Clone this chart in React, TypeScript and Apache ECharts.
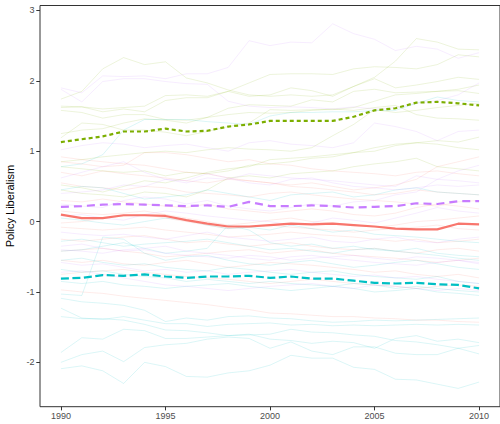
import React, { useEffect, useRef } from "react";
import * as echarts from "echarts";

const years = [1990,1991,1992,1993,1994,1995,1996,1997,1998,1999,2000,2001,2002,2003,2004,2005,2006,2007,2008,2009,2010];
const xTicks = [1990, 1995, 2000, 2005, 2010];
const yTicks = [-2, -1, 0, 1, 2, 3];
const yTitle = "Policy Liberalism";

// group means (bold lines)
const meanRed = [0.10,0.05,0.05,0.09,0.09,0.08,0.02,-0.03,-0.07,-0.07,-0.05,-0.03,-0.04,-0.03,-0.05,-0.07,-0.10,-0.11,-0.11,-0.03,-0.04];
const meanGreen = [1.13,1.17,1.21,1.28,1.28,1.32,1.28,1.29,1.35,1.38,1.43,1.43,1.43,1.43,1.49,1.58,1.61,1.69,1.70,1.68,1.65];
const meanCyan = [-0.81,-0.80,-0.76,-0.77,-0.75,-0.78,-0.80,-0.78,-0.78,-0.77,-0.80,-0.78,-0.81,-0.81,-0.84,-0.87,-0.88,-0.87,-0.89,-0.90,-0.95];
const meanPurple = [0.21,0.22,0.24,0.25,0.24,0.23,0.22,0.23,0.21,0.28,0.22,0.22,0.23,0.22,0.20,0.21,0.22,0.26,0.25,0.29,0.29];

// individual state lines, green group
const greenStates = [
  [1.74,1.85,2.17,2.33,2.23,2.27,2.04,1.97,1.87,1.80,1.78,1.80,1.78,1.80,1.92,2.05,2.28,2.60,2.55,2.45,2.44],
  [1.62,1.63,1.60,1.62,1.64,1.79,1.80,1.78,1.85,1.97,2.09,2.10,2.10,2.09,2.17,2.20,2.19,2.17,2.23,2.37,2.34],
  [1.64,1.63,1.56,1.60,1.56,1.72,1.76,1.76,1.85,1.78,1.80,1.90,1.86,1.78,1.92,2.03,1.90,1.94,1.99,2.05,2.02],
  [1.58,1.55,1.47,1.52,1.52,1.45,1.44,1.48,1.61,1.66,1.65,1.64,1.73,1.70,1.85,1.88,1.83,1.84,1.85,1.86,1.82],
  [1.19,1.40,1.38,1.30,1.30,1.27,1.22,1.28,1.35,1.40,1.59,1.58,1.59,1.59,1.62,1.71,1.80,1.82,1.85,1.88,1.94],
  [1.25,1.30,1.32,1.40,1.46,1.44,1.40,1.48,1.52,1.55,1.54,1.55,1.58,1.60,1.58,1.62,1.65,1.52,1.47,1.46,1.44],
  [0.85,0.88,0.92,0.95,0.98,1.00,0.98,1.02,1.05,1.03,1.02,1.00,1.05,1.22,1.38,1.59,1.55,1.58,1.62,1.65,1.68],
  [0.52,0.48,0.42,0.50,0.58,0.55,0.62,0.70,0.75,0.78,0.88,0.90,0.92,0.95,0.98,1.05,1.10,1.12,1.15,1.13,1.20],
  [0.78,0.75,0.72,0.70,0.72,0.65,0.70,0.68,0.72,0.80,0.82,0.85,0.90,0.92,0.98,1.00,1.08,1.12,1.10,1.05,1.02],
  [0.45,0.40,0.38,0.35,0.42,0.40,0.35,0.45,0.62,0.65,0.62,0.68,0.70,0.72,0.78,0.82,0.85,0.90,0.78,0.75,0.72],
];

// purple group
const purpleStates = [
  [1.90,1.83,2.07,2.06,2.07,2.03,2.10,2.10,2.19,2.57,2.50,2.55,2.54,2.81,2.67,2.59,2.43,2.49,2.45,2.32,2.40],
  [1.88,1.70,1.99,2.03,2.03,1.99,1.96,1.95,1.71,1.64,1.62,1.63,1.62,1.60,1.63,1.60,1.62,1.68,1.72,1.80,1.97],
  [1.02,1.08,1.12,1.10,1.05,1.08,1.10,1.05,1.00,1.12,1.15,1.10,1.08,1.05,1.12,1.40,1.35,1.28,1.15,1.28,1.30],
  [0.62,0.70,0.78,0.85,0.70,0.60,0.55,0.62,0.60,0.68,0.65,0.62,0.60,0.58,0.55,0.52,0.50,0.65,0.60,0.58,0.55],
  [0.40,0.42,0.45,0.52,0.50,0.60,0.58,0.68,0.62,0.55,0.52,0.60,0.62,0.55,0.50,0.48,0.45,0.48,0.52,0.50,0.52],
  [0.08,0.10,0.05,0.02,0.10,0.15,0.12,0.08,0.05,0.02,0.00,-0.05,-0.02,0.05,0.02,-0.02,0.05,0.12,0.20,0.15,0.12],
  [-0.15,-0.18,-0.20,-0.18,-0.22,-0.25,-0.20,-0.15,-0.22,-0.25,-0.28,-0.25,-0.22,-0.28,-0.30,-0.25,-0.22,-0.28,-0.30,-0.25,-0.22],
  [-0.35,-0.32,-0.38,-0.42,-0.40,-0.45,-0.48,-0.50,-0.52,-0.48,-0.50,-0.55,-0.52,-0.50,-0.48,-0.52,-0.55,-0.50,-0.52,-0.55,-0.58],
  [-0.58,-0.62,-0.60,-0.65,-0.70,-0.68,-0.72,-0.70,-0.75,-0.72,-0.70,-0.68,-0.72,-0.75,-0.78,-0.76,-0.80,-0.78,-0.82,-0.85,-0.88],
  [-0.72,-0.70,-0.75,-0.80,-0.85,-0.90,-0.92,-0.95,-0.98,-0.95,-0.92,-0.90,-0.88,-0.92,-0.95,-0.90,-0.92,-0.95,-0.98,-0.95,-0.98],
  [0.25,0.22,0.20,0.30,0.35,0.32,0.25,0.30,0.22,0.18,0.15,0.20,0.25,0.22,0.28,0.30,0.38,0.42,0.60,0.72,0.80],
  [-0.40,-0.42,-0.45,-0.40,-0.38,-0.35,-0.42,-0.45,-0.48,-0.52,-0.55,-0.50,-0.48,-0.52,-0.55,-0.58,-0.60,-0.62,-0.58,-0.55,-0.60],
];

// red group
const redStates = [
  [0.85,0.82,0.78,0.80,0.98,0.98,0.95,0.90,0.85,0.88,0.82,0.80,0.75,0.72,0.70,0.68,0.65,0.70,0.72,0.68,0.65],
  [0.70,0.65,0.72,0.68,0.65,0.62,0.58,0.55,0.60,0.58,0.55,0.52,0.55,0.50,0.45,0.48,0.52,0.60,0.78,0.85,0.92],
  [0.55,0.50,0.48,0.45,0.50,0.48,0.42,0.40,0.38,0.35,0.40,0.42,0.38,0.35,0.32,0.30,0.28,0.25,0.22,0.28,0.30],
  [0.30,0.28,0.32,0.28,0.25,0.22,0.20,0.25,0.18,0.15,0.12,0.15,0.18,0.15,0.10,0.08,0.12,0.20,0.25,0.22,0.18],
  [0.15,0.12,0.10,0.12,0.15,0.10,0.05,0.00,-0.05,-0.02,0.02,0.05,0.00,-0.02,-0.05,-0.08,-0.05,0.00,0.02,0.05,0.08],
  [-0.08,-0.10,-0.12,-0.10,-0.08,-0.12,-0.15,-0.18,-0.22,-0.20,-0.18,-0.15,-0.18,-0.20,-0.22,-0.25,-0.28,-0.25,-0.30,-0.28,-0.25],
  [-0.25,-0.28,-0.25,-0.22,-0.20,-0.25,-0.30,-0.28,-0.32,-0.35,-0.32,-0.30,-0.35,-0.38,-0.40,-0.38,-0.42,-0.45,-0.40,-0.38,-0.42],
  [-0.42,-0.40,-0.38,-0.42,-0.45,-0.50,-0.48,-0.45,-0.42,-0.40,-0.45,-0.42,-0.40,-0.45,-0.48,-0.50,-0.52,-0.55,-0.58,-0.55,-0.52],
  [-0.55,-0.58,-0.55,-0.60,-0.62,-0.58,-0.55,-0.60,-0.65,-0.62,-0.58,-0.60,-0.62,-0.65,-0.68,-0.72,-0.70,-0.75,-0.78,-0.75,-0.80],
  [-0.75,-0.72,-0.70,-0.68,-0.72,-0.75,-0.78,-0.80,-0.82,-0.85,-0.88,-0.85,-0.82,-0.85,-0.88,-0.90,-0.92,-0.95,-0.92,-0.90,-0.92],
  [-0.97,-1.00,-1.02,-1.06,-1.09,-1.12,-1.15,-1.18,-1.22,-1.25,-1.30,-1.31,-1.33,-1.35,-1.35,-1.37,-1.38,-1.40,-1.40,-1.42,-1.43],
  [0.92,0.88,0.85,0.82,0.80,0.75,0.70,0.68,0.62,0.58,0.55,0.50,0.48,0.45,0.42,0.38,0.40,0.45,0.42,0.40,0.38],
  [-0.02,0.00,0.05,0.08,0.10,0.05,0.00,-0.05,-0.10,-0.08,-0.05,-0.08,-0.10,-0.12,-0.15,-0.12,-0.10,-0.08,-0.05,-0.10,-0.12],
];

// cyan group
const cyanStates = [
  [0.78,0.82,0.95,1.30,1.45,1.45,1.45,1.42,1.40,1.38,1.50,1.55,1.55,1.56,1.56,1.58,1.58,1.68,1.77,1.72,1.70],
  [0.45,0.50,0.48,0.40,0.32,0.35,0.38,0.45,0.40,0.35,0.30,0.38,0.40,0.42,0.35,0.38,0.45,0.48,0.42,0.40,0.38],
  [-0.42,-0.40,-0.35,-0.30,-0.38,-0.45,-0.42,-0.38,-0.05,-0.12,-0.30,-0.35,-0.32,-0.38,-0.35,-0.40,-0.42,-0.38,-0.45,-0.48,-0.50],
  [-1.03,-1.05,-0.22,-0.25,-0.45,-0.55,-0.50,-0.48,-0.55,-0.60,-0.62,-0.58,-0.55,-0.60,-0.65,-0.62,-0.58,-0.55,-0.60,-0.65,-0.68],
  [-0.55,-0.52,-0.58,-0.62,-0.60,-0.65,-0.68,-0.70,-0.65,-0.68,-0.72,-0.75,-0.72,-0.70,-0.75,-0.78,-0.80,-0.82,-0.78,-0.85,-0.88],
  [-0.68,-0.72,-0.70,-0.75,-0.78,-0.80,-0.85,-0.82,-0.85,-0.88,-0.85,-0.88,-0.90,-0.92,-0.88,-0.90,-0.95,-0.92,-0.95,-0.98,-1.00],
  [-0.85,-0.88,-0.85,-0.90,-0.92,-0.95,-0.92,-0.90,-0.88,-0.92,-0.95,-0.98,-0.95,-0.92,-0.95,-1.00,-0.98,-0.95,-1.00,-1.02,-1.05],
  [-1.09,-1.14,-1.16,-1.19,-1.26,-1.42,-1.37,-1.40,-1.35,-1.34,-1.37,-1.38,-1.41,-1.43,-1.42,-1.40,-1.41,-1.40,-1.39,-1.38,-1.37],
  [-1.23,-1.37,-1.39,-1.35,-1.40,-1.45,-1.45,-1.49,-1.46,-1.45,-1.44,-1.47,-1.46,-1.48,-1.47,-1.48,-1.47,-1.46,-1.47,-1.46,-1.47],
  [-1.35,-1.38,-1.38,-1.40,-1.46,-1.54,-1.55,-1.58,-1.62,-1.60,-1.67,-1.69,-1.73,-1.70,-1.72,-1.80,-1.66,-1.62,-1.70,-1.67,-1.72],
  [-1.86,-1.65,-1.67,-1.53,-1.55,-1.66,-1.66,-1.64,-1.62,-1.61,-1.60,-1.53,-1.57,-1.58,-1.61,-1.63,-1.69,-1.71,-1.75,-1.80,-1.88],
  [-2.00,-1.89,-1.84,-1.99,-1.79,-1.75,-1.73,-1.67,-1.64,-1.66,-1.80,-1.71,-1.84,-1.89,-1.78,-1.78,-1.87,-1.89,-1.89,-1.80,-1.76],
  [-2.09,-2.05,-2.12,-2.30,-2.00,-2.06,-2.20,-2.21,-2.15,-2.12,-2.04,-1.90,-1.94,-1.94,-2.07,-2.10,-2.24,-2.25,-2.31,-2.37,-2.28],
  [-0.28,-0.25,-0.30,-0.35,-0.32,-0.30,-0.28,-0.25,-0.30,-0.35,-0.40,-0.38,-0.42,-0.45,-0.40,-0.38,-0.42,-0.45,-0.48,-0.52,-0.55],
  [0.05,0.02,-0.02,-0.05,0.00,0.05,0.02,-0.05,-0.10,-0.08,-0.12,-0.05,-0.10,-0.15,-0.12,-0.18,-0.20,-0.22,-0.25,-0.28,-0.30],
];

const RED = "#F8766D";
const GREEN = "#7CAE00";
const CYAN = "#00BFC4";
const PURPLE = "#C77CFF";
const FONT = "'Liberation Sans', Arial, Helvetica, sans-serif";

const toPts = (vals: number[]) => years.map((y, i) => [y, vals[i]]);

export default function App() {
  const ref = useRef<HTMLDivElement>(null);
  useEffect(() => {
    if (!ref.current) return;
    const chart = echarts.init(ref.current, null, { renderer: "svg" });

    const faint = (arr: number[][], color: string) =>
      arr.map((vals) => ({
        type: "line",
        data: toPts(vals),
        showSymbol: false,
        silent: true,
        lineStyle: { color, width: 0.8, opacity: 0.18 },
      }));

    const bold = (vals: number[], color: string, type: any) => ({
      type: "line",
      data: toPts(vals),
      showSymbol: false,
      silent: true,
      z: 5,
      lineStyle: { color, width: 2.2, type, opacity: 1 },
    });

    chart.setOption({
      animation: false,
      backgroundColor: "#ffffff",
      grid: {
        left: 40,
        right: 0,
        top: 5.5,
        bottom: 17.3,
        containLabel: false,
        outerBoundsMode: "none",
        show: true,
        borderColor: "#333333",
        borderWidth: 1,
        backgroundColor: "transparent",
      },
      xAxis: {
        type: "value",
        min: 1989,
        max: 2011,
        splitLine: { show: false },
        axisLine: { show: false, onZero: false },
        axisTick: { show: true, length: 3.7, customValues: xTicks, lineStyle: { color: "#333333", width: 1 } },
        axisLabel: {
          customValues: xTicks,
          color: "#4D4D4D",
          fontSize: 9,
          fontFamily: FONT,
          margin: 5,
          formatter: (v: number) => String(v),
        },
      },
      yAxis: {
        type: "value",
        min: -2.63,
        max: 3.07,
        name: yTitle,
        nameLocation: "middle",
        nameRotate: 90,
        nameGap: 24,
        nameTextStyle: { color: "#000000", fontSize: 11, fontFamily: FONT },
        splitLine: { show: false },
        axisLine: { show: false, onZero: false },
        axisTick: { show: true, length: 3.7, customValues: yTicks, lineStyle: { color: "#333333", width: 1 } },
        axisLabel: {
          customValues: yTicks,
          color: "#4D4D4D",
          fontSize: 9,
          fontFamily: FONT,
          margin: 5.5,
          formatter: (v: number) => String(v),
        },
      },
      series: [
        ...faint(redStates, RED),
        ...faint(greenStates, GREEN),
        ...faint(cyanStates, CYAN),
        ...faint(purpleStates, PURPLE),
        bold(meanRed, RED, "solid"),
        bold(meanGreen, GREEN, [4, 3]),
        bold(meanCyan, CYAN, [8, 3.5]),
        bold(meanPurple, PURPLE, [8, 5]),
      ],
    });
    return () => chart.dispose();
  }, []);
  return (
    <div
      ref={ref}
      style={{ position: "absolute", left: 0, top: 0, width: 500, height: 424 }}
    />
  );
}
